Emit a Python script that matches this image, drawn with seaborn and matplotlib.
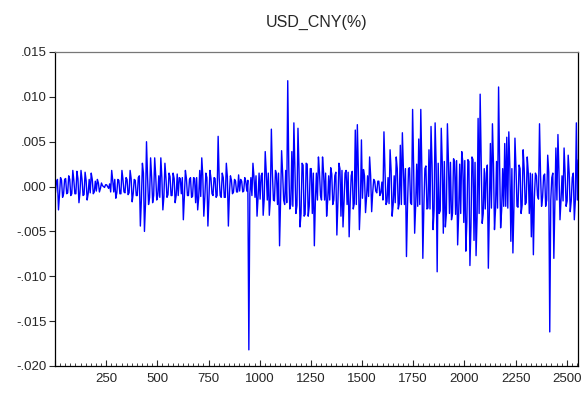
import numpy as np
import pandas as pd
import matplotlib
matplotlib.use("Agg")
import matplotlib.pyplot as plt
from matplotlib.ticker import MultipleLocator, FuncFormatter
import seaborn as sns

title = "USD_CNY(%)"
step = 10          # observations per bin
n_obs = 2555

spike = [
    0.0005, -0.0026, 0.0010, -0.0012, 0.0008, -0.0008, 0.0012, -0.0010, 0.0018, -0.0008,
    0.0017, -0.0018, 0.0018, -0.0010, 0.0016, -0.0015, 0.0008, 0.0015, -0.0008, 0.0006,
    0.0008, -0.0006, 0.0004, 0.0000, 0.0002, 0.0000, 0.0003, 0.0018, -0.0006, -0.0013,
    0.0008, -0.0008, 0.0018, -0.0006, 0.0010, -0.0009, 0.0018, -0.0017, 0.0008, -0.0010,
    0.0010, -0.0044, 0.0026, -0.0050, 0.0050, -0.0020, 0.0032, -0.0018, 0.0032, -0.0015,
    0.0012, 0.0032, -0.0026, 0.0026, -0.0012, 0.0015, -0.0010, 0.0015, -0.0018, 0.0014,
    0.0010, -0.0008, -0.0037, 0.0018, -0.0010, 0.0008, -0.0012, 0.0010, -0.0018, -0.0026,
    0.0018, 0.0032, -0.0033, 0.0015, -0.0044, 0.0018, -0.0008, 0.0010, -0.0012, 0.0056,
    -0.0010, 0.0015, -0.0012, 0.0026, -0.0044, 0.0012, -0.0008, 0.0008, -0.0006, 0.0013,
    0.0008, -0.0006, 0.0010, -0.0005, -0.0182, 0.0010, 0.0026, -0.0012, -0.0033, 0.0015,
    0.0012, -0.0032, 0.0039, -0.0015, -0.0032, 0.0064, -0.0015, 0.0018, -0.0020, -0.0066,
    0.0040, -0.0015, 0.0018, 0.0118, -0.0025, 0.0039, 0.0071, -0.0030, 0.0065, -0.0045,
    0.0026, -0.0033, 0.0026, -0.0033, 0.0020, -0.0030, -0.0066, 0.0015, 0.0033, -0.0010,
    0.0033, -0.0015, -0.0033, 0.0012, 0.0021, -0.0020, 0.0012, -0.0054, 0.0026, -0.0033,
    -0.0045, 0.0015, -0.0020, -0.0056, 0.0012, -0.0025, 0.0063, 0.0069, -0.0048, 0.0052,
    0.0019, -0.0029, 0.0012, 0.0033, -0.0028, 0.0008, -0.0005, 0.0006, -0.0010, 0.0005,
    0.0061, -0.0020, 0.0010, 0.0041, -0.0033, 0.0012, 0.0033, -0.0025, 0.0046, 0.0060,
    -0.0020, -0.0078, 0.0020, -0.0018, 0.0086, -0.0052, 0.0025, 0.0053, 0.0086, -0.0080,
    0.0020, -0.0025, 0.0041, 0.0067, -0.0048, 0.0071, -0.0095, -0.0030, 0.0065, -0.0052,
    -0.0045, 0.0070, -0.0030, -0.0037, 0.0031, -0.0031, -0.0065, 0.0025, 0.0039, -0.0040,
    -0.0072, 0.0030, -0.0088, 0.0033, -0.0060, -0.0077, 0.0076, 0.0103, -0.0041, 0.0020,
    0.0015, -0.0091, 0.0048, 0.0070, -0.0048, 0.0028, 0.0111, -0.0046, 0.0020, 0.0048,
    0.0055, 0.0061, -0.0061, -0.0074, 0.0054, -0.0022, 0.0024, -0.0030, 0.0041, -0.0020,
    0.0033, -0.0030, -0.0056, -0.0076, 0.0015, -0.0010, 0.0070, -0.0022, 0.0012, -0.0022,
    0.0035, -0.0162, 0.0010, -0.0080, 0.0043, 0.0058, -0.0037, 0.0012, 0.0043, -0.0022,
    0.0035, -0.0028, 0.0010, -0.0037, 0.0071, 0.0030,
]

# Opposite excursion (dense core band) per bin
core = [
    -0.0007, 0.0008, -0.0009, 0.0007, -0.0008, 0.0009, -0.0007, 0.0008, -0.0008, 0.0007,
    -0.0008, 0.0009, -0.0007, 0.0008, -0.0009, 0.0007, -0.0008, -0.0007, 0.0008, -0.0006,
    -0.0005, 0.0004, -0.0002, 0.0001, -0.0001, 0.0002, -0.0002, -0.0006, 0.0007, 0.0008,
    -0.0007, 0.0007, -0.0008, 0.0008, -0.0007, 0.0008, -0.0007, 0.0009, -0.0008, 0.0007,
    -0.0010, 0.0012, -0.0015, 0.0015, -0.0020, 0.0012, -0.0012, 0.0011, -0.0010, 0.0012,
    -0.0010, -0.0012, 0.0010, -0.0011, 0.0010, -0.0009, 0.0011, -0.0010, 0.0009, -0.0010,
    -0.0010, 0.0009, 0.0010, -0.0011, 0.0009, -0.0010, 0.0010, -0.0011, 0.0009, 0.0010,
    -0.0012, -0.0011, 0.0012, -0.0012, 0.0010, -0.0012, 0.0009, -0.0010, 0.0009, -0.0010,
    0.0010, -0.0012, 0.0010, -0.0012, 0.0011, -0.0008, 0.0007, -0.0006, 0.0006, -0.0006,
    -0.0005, 0.0006, -0.0005, 0.0006, 0.0007, -0.0008, -0.0010, 0.0011, 0.0012, -0.0012,
    -0.0014, 0.0015, -0.0014, 0.0016, 0.0015, -0.0014, 0.0015, -0.0016, 0.0014, 0.0015,
    -0.0016, 0.0015, -0.0020, -0.0018, 0.0022, -0.0020, -0.0022, 0.0020, -0.0021, 0.0020,
    -0.0030, 0.0024, -0.0031, 0.0025, -0.0022, 0.0020, 0.0015, -0.0016, -0.0015, 0.0016,
    -0.0015, 0.0016, 0.0015, -0.0016, -0.0015, 0.0014, -0.0015, 0.0016, -0.0018, 0.0020,
    0.0018, -0.0017, 0.0018, 0.0016, -0.0018, 0.0017, -0.0019, -0.0020, 0.0018, -0.0019,
    -0.0013, 0.0012, -0.0012, -0.0011, 0.0012, -0.0007, 0.0006, -0.0007, 0.0006, -0.0007,
    -0.0015, 0.0018, -0.0017, -0.0019, 0.0018, -0.0020, -0.0018, 0.0020, -0.0019, -0.0020,
    0.0021, 0.0020, -0.0022, 0.0021, -0.0020, 0.0022, -0.0021, -0.0022, -0.0020, 0.0021,
    -0.0022, 0.0023, -0.0024, -0.0025, 0.0024, -0.0026, 0.0025, 0.0026, -0.0027, 0.0026,
    0.0028, -0.0030, 0.0029, 0.0027, -0.0030, 0.0028, 0.0029, -0.0031, -0.0030, 0.0028,
    0.0029, -0.0040, 0.0028, -0.0045, 0.0030, 0.0027, -0.0035, -0.0030, 0.0028, -0.0030,
    -0.0025, 0.0024, -0.0026, -0.0024, 0.0025, -0.0026, -0.0024, 0.0025, -0.0026, -0.0022,
    -0.0022, -0.0024, 0.0022, 0.0020, -0.0022, 0.0021, -0.0023, 0.0020, -0.0021, 0.0020,
    -0.0018, 0.0016, 0.0015, 0.0014, -0.0012, 0.0012, -0.0014, 0.0013, -0.0012, 0.0014,
    -0.0015, 0.0016, -0.0015, 0.0015, -0.0016, -0.0015, 0.0016, -0.0015, -0.0016, 0.0015,
    -0.0016, 0.0015, -0.0016, 0.0015, -0.0016, -0.0015,
]

bins = np.arange(len(spike)) * step
df = pd.concat([
    pd.DataFrame({"obs": bins + 2, "value": core}),
    pd.DataFrame({"obs": bins + 7, "value": spike}),
]).sort_values("obs").reset_index(drop=True)

sns.set_style("ticks")
plt.rcParams["font.family"] = ["Liberation Sans", "DejaVu Sans"]

fig = plt.figure(figsize=(5.83, 3.96), dpi=100)
ax = fig.add_axes([55 / 583, 30 / 396, (578 - 55) / 583, (366 - 52) / 396])

sns.lineplot(data=df, x="obs", y="value", ax=ax, color="#0000ff",
             linewidth=1.0, estimator=None, sort=False)

ax.set_xlim(0, n_obs)
ax.set_ylim(-0.020, 0.015)
ax.set_xlabel("")
ax.set_ylabel("")
ax.set_title(title, fontsize=11.5, pad=18)

ax.xaxis.set_major_locator(MultipleLocator(250))
ax.xaxis.set_minor_locator(MultipleLocator(25))
ax.yaxis.set_major_locator(MultipleLocator(0.005))

def yfmt(v, pos):
    s = f"{v:.3f}"
    if s in ("0.000", "-0.000"):
        return ".000"
    return s.replace("0.", ".", 1)

ax.yaxis.set_major_formatter(FuncFormatter(yfmt))
ax.xaxis.set_major_formatter(FuncFormatter(lambda v, p: f"{int(v)}" if v > 0 else ""))

ax.tick_params(axis="x", which="major", direction="in", length=4, width=0.8,
               labelsize=9.5, pad=5, top=False)
ax.tick_params(axis="x", which="minor", direction="in", length=2, width=0.6, top=False)
ax.tick_params(axis="y", which="major", direction="out", length=4, width=0.8,
               labelsize=9.5, pad=2, right=False)

for side in ["left", "right", "bottom", "top"]:
    ax.spines[side].set_visible(True)
    ax.spines[side].set_color("black")
    ax.spines[side].set_linewidth(0.9)
ax.spines["top"].set_color("#777777")

fig.savefig("out.png", dpi=100)
